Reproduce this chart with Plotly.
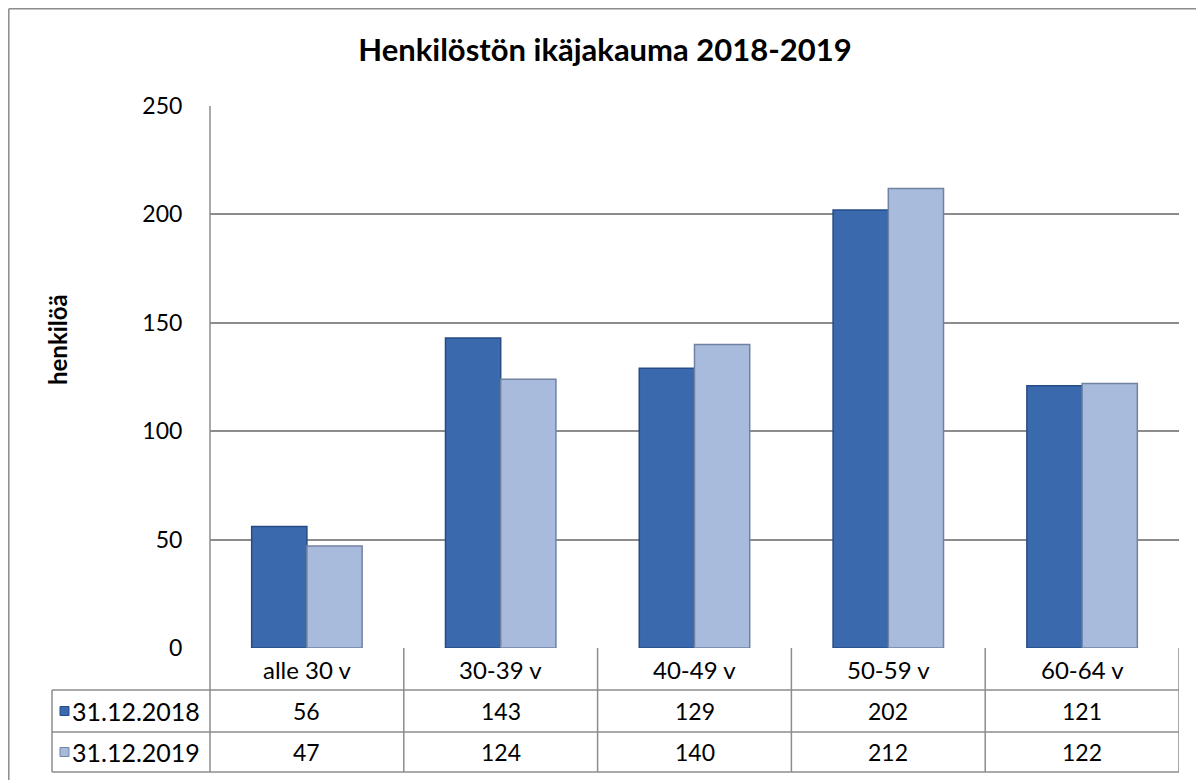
import plotly.graph_objects as go

categories = ["alle 30 v", "30-39 v", "40-49 v", "50-59 v", "60-64 v"]
series_names = ["31.12.2018", "31.12.2019"]
values_2018 = [56, 143, 129, 202, 121]
values_2019 = [47, 124, 140, 212, 122]
y_ticks = [0, 50, 100, 150, 200, 250]

title_text = "Henkilöstön ikäjakauma 2018-2019"
y_title = "henkilöä"

FONT = "Lato"
GRID = "#8C8C8C"
DARK = "#3A6AAD"
DARK_EDGE = "#274C85"
LIGHT = "#A8BBDC"
LIGHT_EDGE = "#7283A2"

OFF = 8  # page body margin of the html page
PAGE_W, PAGE_H = 1204, 780
W_FIG, H_FIG = PAGE_W - OFF, PAGE_H - OFF
# plot area in page pixels
L, R, T, B = 210, 1179, 106, 648
PW, PH = R - L, B - T


def px(x):
    return (x - L) / PW


def py(y):
    return (B - y) / PH


fig = go.Figure()
fig.add_trace(go.Bar(x=categories, y=values_2018, name=series_names[0],
                     marker=dict(color=DARK, line=dict(color=DARK_EDGE, width=1.5))))
fig.add_trace(go.Bar(x=categories, y=values_2019, name=series_names[1],
                     marker=dict(color=LIGHT, line=dict(color=LIGHT_EDGE, width=1.5))))

shapes = []
line_style = dict(color=GRID, width=1.5)
# outer frame (left and top edges visible)
shapes.append(dict(type="line", xref="paper", yref="paper", x0=px(OFF + 0.8), x1=px(PAGE_W + 5),
                   y0=py(OFF + 0.8), y1=py(OFF + 0.8), line=line_style))
shapes.append(dict(type="line", xref="paper", yref="paper", x0=px(OFF + 0.8), x1=px(OFF + 0.8),
                   y0=py(OFF + 0.8), y1=py(PAGE_H + 5), line=line_style))
# y axis line through header row down to table bottom
shapes.append(dict(type="line", xref="paper", yref="paper", x0=0, x1=0, y0=1, y1=py(772), line=line_style))
# table horizontal lines
row_lines = [690, 732, 772]
for yl in row_lines:
    shapes.append(dict(type="line", xref="paper", yref="paper", x0=px(52), x1=1, y0=py(yl), y1=py(yl), line=line_style))
# table left edge
shapes.append(dict(type="line", xref="paper", yref="paper", x0=px(52), x1=px(52), y0=py(690), y1=py(772), line=line_style))
# column separators in data coordinates
for i in range(len(categories)):
    shapes.append(dict(type="line", xref="x", yref="paper", x0=i + 0.5, x1=i + 0.5, y0=0, y1=py(772), line=line_style))

# legend keys
key_colors = [(DARK, DARK_EDGE), (LIGHT, LIGHT_EDGE)]
row_centers = [711, 752]
for (c, e), yc in zip(key_colors, row_centers):
    shapes.append(dict(type="rect", xref="paper", yref="paper", x0=px(60), x1=px(69),
                       y0=py(yc + 4.5), y1=py(yc - 4.5), fillcolor=c, line=dict(color=e, width=1)))

annotations = []
txt_font = dict(family=FONT, size=24, color="#000000")
for i, cat in enumerate(categories):
    annotations.append(dict(x=i, y=py(669), xref="x", yref="paper", text=cat, showarrow=False,
                            font=txt_font, xanchor="center", yanchor="middle"))
for vals, yc in zip([values_2018, values_2019], row_centers):
    for i, v in enumerate(vals):
        annotations.append(dict(x=i, y=py(yc), xref="x", yref="paper", text=str(v), showarrow=False,
                                font=dict(family=FONT, size=23, color="#000000"),
                                xanchor="center", yanchor="middle"))
for name, yc in zip(series_names, row_centers):
    annotations.append(dict(x=px(70), y=py(yc), xref="paper", yref="paper", text=name, showarrow=False,
                            font=dict(family=FONT, size=25, color="#000000"), xanchor="left", yanchor="middle"))
annotations.append(dict(x=px(57), y=py(340), xref="paper", yref="paper", text=f"<b>{y_title}</b>",
                        textangle=-90, showarrow=False, font=dict(family=FONT, size=24, color="#000000"),
                        xanchor="center", yanchor="middle"))

fig.update_layout(
    width=W_FIG, height=H_FIG,
    margin=dict(l=L - OFF, r=PAGE_W - R, t=T - OFF, b=PAGE_H - B, pad=0),
    paper_bgcolor="white", plot_bgcolor="white",
    title=dict(text=f"<b>{title_text}</b>", x=(605 - OFF) / W_FIG, xref="container",
               y=1 - (50 - OFF) / H_FIG, yref="container", xanchor="center", yanchor="middle",
               font=dict(family=FONT, size=31, color="#000000")),
    barmode="group", bargap=0.43, bargroupgap=0,
    showlegend=False,
    xaxis=dict(range=[-0.5, len(categories) - 0.5], showticklabels=False, showgrid=False,
               showline=False, zeroline=False, ticks=""),
    yaxis=dict(range=[0, 250], tickvals=y_ticks, showgrid=True, gridcolor=GRID, gridwidth=1.5,
               zeroline=False, showline=False, ticks="outside", ticklen=22,
               tickcolor="rgba(0,0,0,0)", tickfont=dict(family=FONT, size=23, color="#000000")),
    shapes=shapes, annotations=annotations,
)

fig.write_html("out.html")
